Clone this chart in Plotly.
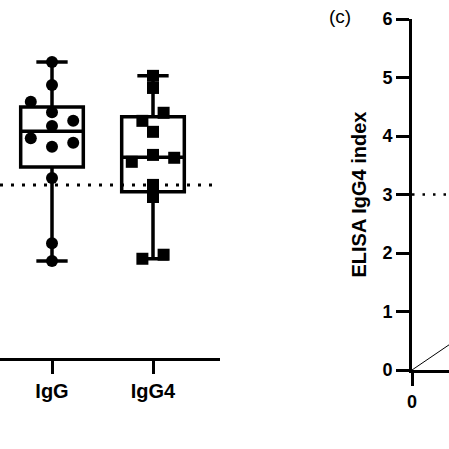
import plotly.graph_objects as go

# ---------------- data ----------------
categories = ["IgG", "IgG4"]

igg_values = [1.68, 1.99, 3.12, 3.66, 3.73, 3.81, 4.02, 4.11, 4.26, 4.44, 4.73, 5.13]
igg4_values = [1.72, 1.79, 2.79, 3.00, 3.40, 3.47, 3.52, 3.92, 4.11, 4.25, 4.68, 4.89]

# box statistics as drawn (q1, median, q3)
igg_box = [3.31, 3.93, 4.35]
igg4_box = [2.88, 3.48, 4.18]

cutoff = 3.0

# panel (c)
c_yticks = [0, 1, 2, 3, 4, 5, 6]
c_xticks = [0]
fit_x = [0, 1]
fit_y = [0, 0.68]

# ---------------- style (horizontal point dodge, in marker columns) ----------------
igg_dodge = [0, 0, 0, 0, 1, -1, 0, 1, 0, -1, 0, 0]
igg4_dodge = [-0.5, 0.5, 0, 0, -1, 1, 0, 0, -0.5, 0.5, 0, 0]
column = 0.21

FONT = "Liberation Sans, Arial, sans-serif"
W = H = 449

fig = go.Figure()

for i, (vals, stats) in enumerate([(igg_values, igg_box), (igg4_values, igg4_box)]):
    fig.add_trace(go.Box(
        x=[i], q1=[stats[0]], median=[stats[1]], q3=[stats[2]],
        lowerfence=[min(vals)], upperfence=[max(vals)],
        width=0.62, whiskerwidth=0.5, fillcolor="white",
        line=dict(color="black", width=3.5), boxpoints=False,
        xaxis="x", yaxis="y", hoverinfo="skip"))

for i, (vals, dodge, sym) in enumerate([(igg_values, igg_dodge, "circle"),
                                        (igg4_values, igg4_dodge, "square")]):
    fig.add_trace(go.Scatter(
        x=[i + d * column for d in dodge], y=vals, mode="markers",
        marker=dict(symbol=sym, size=12, color="black", line=dict(width=0)),
        xaxis="x", yaxis="y", hoverinfo="skip"))

fig.add_trace(go.Scatter(
    x=fit_x, y=fit_y, mode="lines", line=dict(color="black", width=1),
    xaxis="x2", yaxis="y2", hoverinfo="skip"))

# cutoff dotted lines
fig.add_shape(type="line", xref="x domain", x0=0, x1=1, yref="y", y0=cutoff, y1=cutoff,
              line=dict(color="black", width=3, dash="3px,8px"))
fig.add_shape(type="line", xref="x2 domain", x0=0, x1=1, yref="y2", y0=cutoff, y1=cutoff,
              line=dict(color="black", width=2.5, dash="2.5px,8px"))

axis_common = dict(showline=True, linecolor="black", linewidth=3, ticks="outside",
                   ticklen=13, tickwidth=3, tickcolor="black", showgrid=False,
                   zeroline=False, automargin=False)

y0_px, unit_px = 358, 57.7
fig.update_layout(
    width=W, height=H, margin=dict(l=0, r=0, t=0, b=0),
    paper_bgcolor="white", plot_bgcolor="white", showlegend=False,
    xaxis=dict(domain=[0, 220 / W], range=[-52 / 101, 168 / 101],
               tickvals=list(range(len(categories))), ticktext=categories,
               tickfont=dict(family=FONT, size=20, color="black", weight="bold"),
               anchor="y", **axis_common),
    yaxis=dict(domain=[(H - y0_px) / H, 1], range=[0, y0_px / unit_px],
               visible=False, anchor="x"),
    xaxis2=dict(domain=[412 / W, 1], range=[0, 37 / 58.5], tickvals=c_xticks,
                tickfont=dict(family=FONT, size=18, color="black", weight="bold"),
                anchor="y2", **axis_common),
    yaxis2=dict(domain=[(H - 370) / H, (H - 19) / H], range=[0, 6], tickvals=c_yticks,
                tickfont=dict(family=FONT, size=18, color="black", weight="bold"),
                title=dict(text="ELISA IgG4 index", standoff=11,
                           font=dict(family=FONT, size=20, color="black", weight="bold")),
                anchor="x2", **axis_common),
)

fig.add_annotation(text="(c)", xref="paper", yref="paper", x=340 / W, y=1 - 17 / H,
                   showarrow=False, xanchor="center", yanchor="middle",
                   font=dict(family=FONT, size=19, color="black"))

fig.write_html("out.html", config={"displayModeBar": False},
               post_script="document.body.style.margin='0';")
